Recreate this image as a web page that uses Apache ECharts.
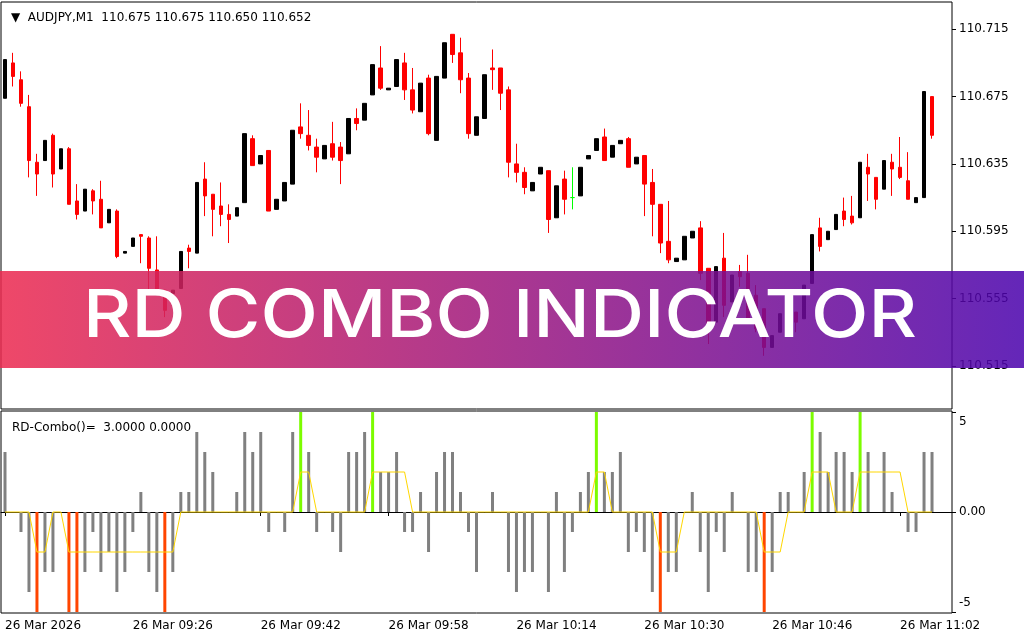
<!DOCTYPE html>
<html><head><meta charset="utf-8">
<script src="https://cdn.jsdelivr.net/npm/echarts@6/dist/echarts.min.js"></script>
<style>html,body{margin:0;padding:0;background:#fff}#c{width:1024px;height:640px}</style>
</head><body><div id="c"></div>
<script>
const symbolName = 'AUDJPY,M1';
const indicatorName = 'RD-Combo()=';
const bannerText = 'RD COMBO INDICATOR';
const startHour = 9, startMinute = 10, padBars = 2;
const xTickLabels = ['26 Mar 2026','26 Mar 09:26','26 Mar 09:42','26 Mar 09:58','26 Mar 10:14','26 Mar 10:30','26 Mar 10:46','26 Mar 11:02'];
const priceTicks = [110.515,110.555,110.595,110.635,110.675,110.715];
const indTicks = [-5,0,5];

const open = [110.674,110.695,110.685,110.669,110.636,110.637,110.652,110.632,110.644,110.613,
110.607,110.619,110.614,110.600,110.607,110.582,110.586,110.593,110.591,110.572,
110.560,110.558,110.561,110.585,110.582,110.626,110.617,110.610,110.605,110.604,
110.612,110.650,110.635,110.643,110.608,110.613,110.623,110.657,110.652,110.645,
110.638,110.647,110.645,110.641,110.662,110.661,110.676,110.692,110.679,110.681,
110.695,110.679,110.666,110.686,110.649,110.686,110.712,110.701,110.686,110.652,
110.662,110.692,110.692,110.679,110.635,110.630,110.619,110.629,110.631,110.603,
110.626,110.615,110.616,110.638,110.643,110.651,110.639,110.647,110.650,110.635,
110.640,110.624,110.611,110.589,110.577,110.578,110.591,110.597,110.573,110.541,
110.579,110.553,110.571,110.570,110.557,110.549,110.526,110.535,110.544,110.547,
110.543,110.564,110.597,110.590,110.596,110.607,110.604,110.603,110.633,110.627,
110.620,110.636,110.633,110.625,110.612,110.615,110.675];
const high = [110.697,110.701,110.690,110.676,110.641,110.649,110.653,110.644,110.645,110.623,
110.620,110.620,110.625,110.608,110.608,110.583,110.591,110.593,110.592,110.592,
110.560,110.560,110.583,110.587,110.624,110.636,110.617,110.624,110.611,110.609,
110.653,110.652,110.640,110.643,110.614,110.624,110.655,110.671,110.667,110.650,
110.646,110.660,110.648,110.662,110.668,110.671,110.694,110.705,110.680,110.697,
110.701,110.692,110.683,110.688,110.687,110.707,110.712,110.710,110.689,110.663,
110.688,110.703,110.692,110.681,110.647,110.633,110.624,110.633,110.631,110.622,
110.631,110.633,110.633,110.640,110.650,110.656,110.646,110.649,110.651,110.639,
110.640,110.632,110.611,110.613,110.579,110.592,110.595,110.601,110.573,110.574,
110.594,110.569,110.575,110.581,110.563,110.549,110.533,110.546,110.549,110.547,
110.563,110.593,110.603,110.595,110.605,110.615,110.616,110.636,110.641,110.627,
110.637,110.641,110.651,110.642,110.615,110.678,110.675];
const low = [110.674,110.681,110.669,110.627,110.616,110.637,110.621,110.632,110.611,110.602,
110.607,110.605,110.597,110.600,110.579,110.582,110.586,110.576,110.560,110.558,
110.544,110.558,110.561,110.573,110.582,110.604,110.592,110.598,110.588,110.604,
110.612,110.634,110.635,110.607,110.608,110.613,110.623,110.650,110.643,110.630,
110.638,110.637,110.623,110.641,110.655,110.661,110.676,110.679,110.679,110.681,
110.673,110.665,110.666,110.652,110.649,110.686,110.695,110.677,110.650,110.652,
110.662,110.679,110.667,110.627,110.624,110.617,110.619,110.629,110.594,110.603,
110.605,110.608,110.616,110.638,110.643,110.637,110.639,110.647,110.633,110.635,
110.604,110.592,110.582,110.576,110.577,110.578,110.591,110.566,110.528,110.541,
110.544,110.553,110.562,110.543,110.535,110.521,110.526,110.535,110.542,110.535,
110.543,110.564,110.583,110.590,110.596,110.598,110.599,110.603,110.613,110.608,
110.620,110.616,110.626,110.614,110.612,110.615,110.650];
const close = [110.697,110.687,110.671,110.637,110.629,110.649,110.629,110.644,110.611,110.605,
110.620,110.613,110.597,110.608,110.580,110.583,110.591,110.592,110.573,110.558,
110.548,110.560,110.583,110.583,110.624,110.616,110.608,110.605,110.602,110.609,
110.653,110.634,110.640,110.607,110.614,110.624,110.655,110.653,110.646,110.639,
110.646,110.639,110.637,110.662,110.659,110.671,110.694,110.680,110.680,110.697,
110.679,110.667,110.683,110.653,110.687,110.707,110.700,110.685,110.653,110.663,
110.688,110.691,110.677,110.636,110.630,110.621,110.624,110.633,110.602,110.622,
110.614,110.615,110.633,110.640,110.650,110.637,110.646,110.649,110.633,110.639,
110.623,110.611,110.588,110.578,110.579,110.592,110.595,110.570,110.540,110.574,
110.551,110.569,110.568,110.543,110.537,110.526,110.533,110.546,110.548,110.541,
110.563,110.593,110.586,110.595,110.605,110.602,110.600,110.636,110.629,110.614,
110.637,110.632,110.627,110.614,110.615,110.678,110.652];

const rdHist = [3,0,-1,-4,-5,-3,-3,0,-5,-5,
-3,-1,-3,-2,-4,-3,-1,1,-3,-4,
-5,-3,1,1,4,3,2,0,0,1,
4,3,4,-1,0,-1,4,5,3,-1,
0,-1,-2,3,3,4,5,2,2,3,
-1,-1,1,-2,2,3,3,1,-1,-3,
0,1,0,-3,-4,-3,-3,0,-4,1,
-3,-1,1,2,5,2,2,3,-2,-1,
-2,-4,-5,-3,-3,0,1,-2,-4,-1,
-2,1,0,-3,-3,-5,-3,1,1,0,
2,5,4,2,3,3,2,5,3,0,
3,1,0,-1,-1,3,3];
const rdSignal = [0,0,0,0,-2,-2,0,0,-2,-2,
-2,-2,-2,-2,-2,-2,-2,-2,-2,-2,
-2,-2,0,0,0,0,0,0,0,0,
0,0,0,0,0,0,0,2,2,0,
0,0,0,0,0,0,2,2,2,2,
2,0,0,0,0,0,0,0,0,0,
0,0,0,0,0,0,0,0,0,0,
0,0,0,0,2,2,0,0,0,0,
0,0,-2,-2,-2,0,0,0,0,0,
0,0,0,0,0,-2,-2,-2,0,0,
0,2,2,2,0,0,0,2,2,2,
2,2,2,0,0,0,0];

// minute categories (time stamps), plus empty right-shift slots
const categories = [];
for (let k = 0; k < open.length + padBars; k++) {
  const t = startHour * 60 + startMinute + k;
  const hh = String(Math.floor(t / 60)).padStart(2, '0');
  const mm = String(t % 60).padStart(2, '0');
  categories.push('26 Mar ' + hh + ':' + mm);
}

const FONT = 'DejaVu Sans';
const n = open.length;
const candleData = open.map((o, i) => {
  const v = [o, close[i], low[i], high[i]];
  if (o === close[i]) {
    return { value: v, itemStyle: { color: '#00ff00', color0: '#00ff00', borderColor: '#00ff00', borderColor0: '#00ff00', borderColorDoji: '#00ff00' } };
  }
  return v;
});
const last = n - 1;
const headerText = '▼  ' + symbolName + '  ' + open[last].toFixed(3) + ' ' + high[last].toFixed(3) + ' ' + low[last].toFixed(3) + ' ' + close[last].toFixed(3);
const subText = indicatorName + '  ' + rdHist[last].toFixed(4) + ' ' + rdSignal[last].toFixed(4);

const tickEvery = 16;
const showTick = (idx) => idx % tickEvery === 0 && idx < n;

const chart = echarts.init(document.getElementById('c'), null, { renderer: 'canvas' });
chart.setOption({
  animation: false,
  backgroundColor: '#fff',
  textStyle: { fontFamily: FONT },
  title: [
    { text: headerText, left: 6, top: 7, textStyle: { fontFamily: FONT, fontSize: 12, fontWeight: 'normal', color: '#000' } },
    { text: subText, left: 7, top: 417, textStyle: { fontFamily: FONT, fontSize: 12, fontWeight: 'normal', color: '#000' } }
  ],
  grid: [
    { left: 1, width: 951, top: 2, height: 407, show: true, borderColor: '#000', borderWidth: 1, backgroundColor: '#fff' },
    { left: 1, width: 951, top: 411, height: 202, show: true, borderColor: '#000', borderWidth: 1, backgroundColor: '#fff' }
  ],
  xAxis: [
    { type: 'category', gridIndex: 0, data: categories, boundaryGap: true, axisLine: { show: false }, axisTick: { show: false }, axisLabel: { show: false }, splitLine: { show: false } },
    { type: 'category', gridIndex: 1, data: categories, boundaryGap: true,
      axisLine: { show: true, lineStyle: { color: '#000' } },
      axisTick: { show: true, interval: showTick, alignWithLabel: true, length: 4, lineStyle: { color: '#000' } },
      axisLabel: { show: true, interval: showTick, align: 'left', margin: 7, color: '#000', fontFamily: FONT, fontSize: 12,
        formatter: (v, idx) => xTickLabels[Math.round(idx / tickEvery)] },
      splitLine: { show: false } }
  ],
  yAxis: [
    { type: 'value', gridIndex: 0, position: 'right', min: 110.4894, max: 110.7312, scale: true,
      axisLine: { show: false }, splitLine: { show: false },
      axisTick: { show: true, customValues: priceTicks, length: 4, lineStyle: { color: '#000' } },
      axisLabel: { customValues: priceTicks, formatter: v => v.toFixed(3), margin: 7, color: '#000', fontFamily: FONT, fontSize: 12 } },
    { type: 'value', gridIndex: 1, position: 'right', min: -5.05, max: 5.05,
      axisLine: { show: false }, splitLine: { show: false },
      axisTick: { show: true, customValues: indTicks, length: 4, lineStyle: { color: '#000' } },
      axisLabel: { customValues: indTicks, margin: 7, color: '#000', fontFamily: FONT, fontSize: 12,
        formatter: v => v > 0 ? '{up|' + v + '}' : (v < 0 ? '{dn|' + v + '}' : v.toFixed(2)),
        rich: {
          up: { padding: [20, 0, 0, 0], fontFamily: FONT, fontSize: 12, color: '#000' },
          dn: { padding: [0, 0, 18, 0], fontFamily: FONT, fontSize: 12, color: '#000' }
        } } }
  ],
  series: [
    { type: 'candlestick', xAxisIndex: 0, yAxisIndex: 0, data: candleData, barWidth: 4,
      itemStyle: { color: '#000000', color0: '#ff0000', borderColor: '#000000', borderColor0: '#ff0000', borderWidth: 1 },
      markLine: { silent: true, symbol: 'none', animation: false,
        lineStyle: { opacity: 0 },
        label: { show: true, position: 'end', distance: 2, formatter: () => close[last].toFixed(3),
          backgroundColor: '#000', color: '#fff', padding: [2, 5, 2, 5], fontFamily: FONT, fontSize: 12 },
        data: [{ yAxis: close[last] }] } },
    { type: 'bar', xAxisIndex: 1, yAxisIndex: 1, data: rdHist, barWidth: 3,
      itemStyle: { color: p => p.value >= 5 ? '#7cfc00' : (p.value <= -5 ? '#ff4500' : '#808080') } },
    { type: 'line', xAxisIndex: 1, yAxisIndex: 1, data: rdSignal, symbol: 'none', z: 5,
      lineStyle: { color: '#ffd700', width: 1 } }
  ],
  graphic: [
    { type: 'rect', z: 100, shape: { x: 0, y: 271, width: 1024, height: 97 },
      style: { opacity: 0.86, fill: new echarts.graphic.LinearGradient(0, 0, 1, 0, [
        { offset: 0, color: '#ec2a50' }, { offset: 1, color: '#4b03ad' }]) } },
    { type: 'text', z: 101, x: 500, y: 317, scaleX: 1.135, scaleY: 1,
      style: { text: bannerText, fill: '#fff', font: '500 66px Inter', textAlign: 'center', textVerticalAlign: 'middle' } }
  ]
});
</script>
</body></html>
